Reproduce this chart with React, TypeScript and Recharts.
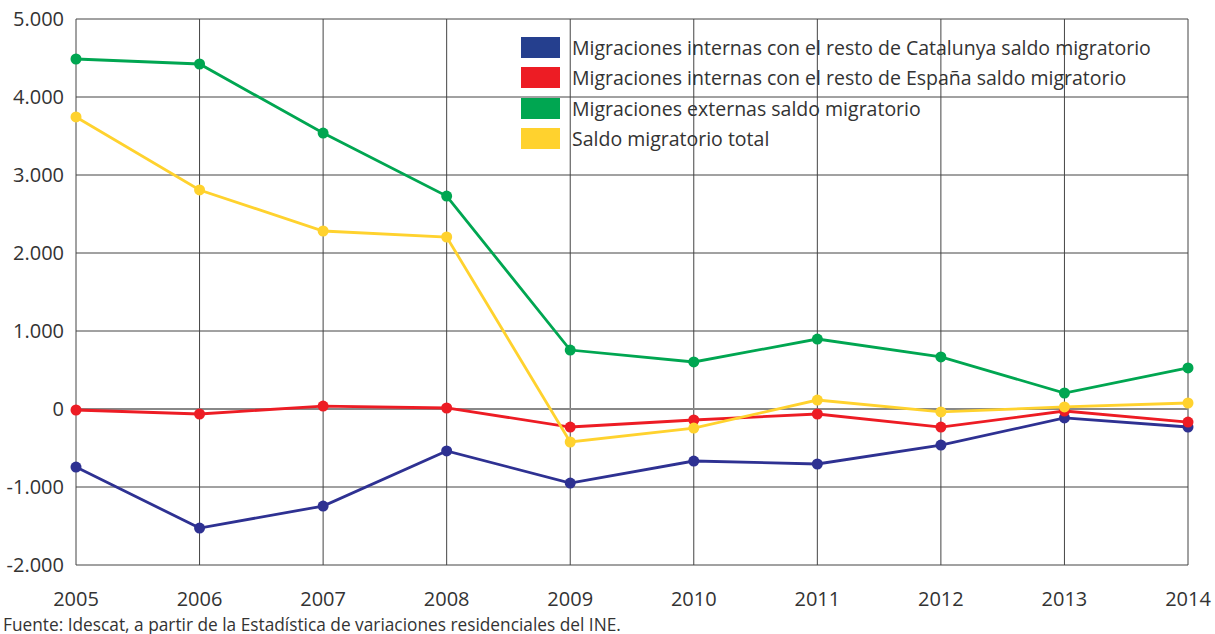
import { CartesianGrid, Line, LineChart, ReferenceLine, XAxis, YAxis } from 'recharts'

const YEARS = ['2005', '2006', '2007', '2008', '2009', '2010', '2011', '2012', '2013', '2014']
const CATALUNYA = [-744, -1526, -1244, -538, -949, -667, -705, -462, -115, -231]
const ESPANA = [-13, -64, 38, 13, -231, -141, -64, -231, -26, -167]
const EXTERNAS = [4487, 4423, 3538, 2730, 756, 603, 897, 667, 205, 526]
const TOTAL = [3744, 2808, 2282, 2205, -423, -244, 115, -38, 26, 77]
const Y_TICKS = [-2000, -1000, 0, 1000, 2000, 3000, 4000, 5000]

const SERIES = [
  { key: 'cat', name: 'Migraciones internas con el resto de Catalunya saldo migratorio', color: '#2e3192', swatch: '#253f8e' },
  { key: 'esp', name: 'Migraciones internas con el resto de España saldo migratorio', color: '#ed1c24', swatch: '#ed1c24' },
  { key: 'ext', name: 'Migraciones externas saldo migratorio', color: '#00a651', swatch: '#00a651' },
  { key: 'tot', name: 'Saldo migratorio total', color: '#ffd22e', swatch: '#ffd22e' },
]

const data = YEARS.map((year, i) => ({
  year,
  cat: CATALUNYA[i],
  esp: ESPANA[i],
  ext: EXTERNAS[i],
  tot: TOTAL[i],
}))

const FONT = '"Open Sans", "Noto Sans", sans-serif'
const fmt = (v: number) => v.toLocaleString('de-DE')

// leyenda fija arriba a la derecha, fuera del layout de recharts
function LegendBox() {
  return (
    <div
      style={{
        position: 'absolute',
        left: 521,
        top: 32,
        fontFamily: FONT,
        fontSize: 19.5,
        color: '#333',
        whiteSpace: 'nowrap',
      }}
    >
      {SERIES.map((s) => (
        <div key={s.key} style={{ display: 'flex', alignItems: 'center', height: 30.5 }}>
          <span style={{ width: 39, height: 21, background: s.swatch, marginRight: 12 }} />
          <span>{s.name}</span>
        </div>
      ))}
    </div>
  )
}

export default function App() {
  return (
    <div style={{ position: 'absolute', left: 0, top: 0, width: 1215, height: 634, background: '#fff' }}>
      <LineChart width={1215} height={634} data={data} margin={{ top: 19, right: 27, left: 0, bottom: 29 }}>
        <CartesianGrid stroke="#444" strokeWidth={1} />
        <XAxis
          dataKey="year"
          axisLine={false}
          tickLine={false}
          height={40}
          tickMargin={21}
          tick={{ fill: '#333', fontSize: 20, fontFamily: FONT }}
          interval={0}
        />
        <YAxis
          domain={[-2000, 5000]}
          ticks={Y_TICKS}
          width={76}
          axisLine={false}
          tickLine={false}
          tickMargin={6}
          tickFormatter={fmt}
          tick={{ fill: '#333', fontSize: 20, fontFamily: FONT }}
        />
        <ReferenceLine y={0} stroke="#888" strokeWidth={2} />
        {SERIES.map((s) => (
          <Line
            key={s.key}
            dataKey={s.key}
            name={s.name}
            type="linear"
            stroke={s.color}
            strokeWidth={2.8}
            dot={{ r: 5.5, fill: s.color, stroke: s.color, strokeWidth: 0 }}
            isAnimationActive={false}
          />
        ))}
      </LineChart>
      <LegendBox />
      <div
        style={{
          position: 'absolute',
          left: 3,
          top: 616,
          fontFamily: FONT,
          fontSize: 17.3,
          lineHeight: '18px',
          color: '#333',
          whiteSpace: 'nowrap',
        }}
      >
        Fuente: Idescat, a partir de la Estadística de variaciones residenciales del INE.
      </div>
    </div>
  )
}
